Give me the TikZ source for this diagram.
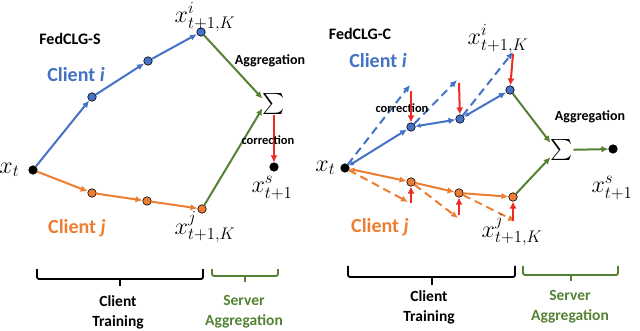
\RequirePackage{fix-cm}
\documentclass[tikz,border=0pt]{standalone}
\usepackage{fontspec}
\newfontfamily\calibri{Carlito}
\usetikzlibrary{arrows.meta, positioning, calc}
\definecolor{clientBlue}{HTML}{4472C4}
\definecolor{clientOrange}{HTML}{ED7D31}
\definecolor{serverGreen}{HTML}{548235}
\definecolor{corrRed}{HTML}{EE2A24}
\def\lw{2pt}

\begin{document}
\begin{tikzpicture}[x=1pt, y=-1pt,
    dotnode/.style={circle, inner sep=0pt, minimum size=8.5pt,
                    draw=black, line width=0.6pt},
    mathlbl/.style={font=\fontsize{24}{28}\selectfont, inner sep=1pt},
    sumlbl/.style={scale=2.1, inner sep=0pt},
    tag/.style={font=\calibri\bfseries\fontsize{14}{16}\selectfont},
    bluestep/.style={clientBlue, line width=\lw,
                     {Latex[length=5pt,width=5pt]}-{Latex[length=7pt,width=6.5pt]}},
    orangestep/.style={clientOrange, line width=\lw,
                     -{Latex[length=7pt,width=6.5pt]}},
    dashstep/.style={line width=\lw, dash pattern=on 8pt off 5pt,
                     -{Latex[length=7pt,width=6.5pt]}},
    aggarrow/.style={serverGreen, line width=\lw,
                     -{Latex[length=7pt,width=6.5pt]}},
    corrarrow/.style={corrRed, line width=2pt,
                     -{Latex[length=7pt,width=7pt]}},
    bracket/.style={line width=1.8pt, rounded corners=2pt}]

    \useasboundingbox (0,0) rectangle (640,331);

    % ==========================================================
    % 1. FedCLG-S (left panel)
    % ==========================================================
    \node[dotnode, fill=black]        (xtL) at (33,170) {};
    \node[dotnode, fill=clientBlue]   (bi1) at (92,97)  {};
    \node[dotnode, fill=clientBlue]   (bi2) at (148,61) {};
    \node[dotnode, fill=clientBlue]   (bi3) at (201,32) {};
    \node[dotnode, fill=clientOrange] (bj1) at (92,193) {};
    \node[dotnode, fill=clientOrange] (bj2) at (147,201) {};
    \node[dotnode, fill=clientOrange] (bj3) at (202,209) {};
    \node[sumlbl] (sumL) at (274,104) {$\sum$};
    \node[dotnode, fill=black]        (xsL) at (274,167) {};

    % Local steps of the two clients
    \draw[bluestep, -{Latex[length=7pt,width=6.5pt]}] (xtL) -- (bi1);
    \draw[bluestep, -{Latex[length=7pt,width=6.5pt]}] (bi1) -- (bi2);
    \draw[bluestep, -{Latex[length=7pt,width=6.5pt]}] (bi2) -- (bi3);
    \draw[orangestep] (xtL) -- (bj1);
    \draw[orangestep] (bj1) -- (bj2);
    \draw[orangestep] (bj2) -- (bj3);

    % Aggregation and server-side correction
    \draw[aggarrow] (bi3) -- (sumL.155);
    \draw[aggarrow] (bj3) -- (sumL.200);
    \draw[corrarrow] (sumL) -- (xsL);

    % Labels
    \node[mathlbl, anchor=east] at ($(xtL.west)+(-8,0)$) {$x_t$};
    \node[mathlbl] at (205,17)  {$x^i_{t+1,K}$};
    \node[mathlbl] at (205,227) {$x^j_{t+1,K}$};
    \node[mathlbl] at (272,188) {$x^s_{t+1}$};
    \node[tag, font=\calibri\bfseries\fontsize{16}{18}\selectfont] at (70,39) {FedCLG-S};
    \node[tag, clientBlue, font=\calibri\bfseries\fontsize{20}{22}\selectfont]
        at (76,75) {Client \textit{i}};
    \node[tag, clientOrange, font=\calibri\bfseries\fontsize{20}{22}\selectfont]
        at (77,228) {Client \textit{j}};
    \node[tag] at (270,61) {Aggregation};
    \node[tag, font=\calibri\bfseries\fontsize{12.5}{14}\selectfont]
        at (268,140) {correction};

    % ==========================================================
    % 2. FedCLG-C (right panel)
    % ==========================================================
    \node[dotnode, fill=black]        (xtR) at (345,168) {};
    \node[dotnode, fill=clientBlue]   (ci1) at (411,127) {};
    \node[dotnode, fill=clientBlue]   (ci2) at (460,119) {};
    \node[dotnode, fill=clientBlue]   (ci3) at (510,90)  {};
    \node[dotnode, fill=clientOrange] (cj1) at (411,182) {};
    \node[dotnode, fill=clientOrange] (cj2) at (459,193) {};
    \node[dotnode, fill=clientOrange] (cj3) at (513,197) {};
    \node[sumlbl] (sumR) at (562,150) {$\sum$};
    \node[dotnode, fill=black]        (xsR) at (613,149) {};

    % Ends of the uncorrected (dashed) steps
    \coordinate (di1) at (410,85);
    \coordinate (di2) at (457,80);
    \coordinate (di3) at (513,52);
    \coordinate (dj1) at (408,202);
    \coordinate (dj2) at (458,218);
    \coordinate (dj3) at (515,221);

    % Uncorrected steps
    \draw[dashstep, clientBlue]   (xtR) -- (di1);
    \draw[dashstep, clientBlue]   (ci1) -- (di2);
    \draw[dashstep, clientBlue]   (ci2) -- (di3);
    \draw[dashstep, clientOrange] (xtR) -- (dj1);
    \draw[dashstep, clientOrange] (cj1) -- (dj2);
    \draw[dashstep, clientOrange] (cj2) -- (dj3);

    % Corrected steps
    \draw[bluestep] (xtR) -- (ci1);
    \draw[bluestep] (ci1) -- (ci2);
    \draw[bluestep] (ci2) -- (ci3);
    \draw[orangestep, {Latex[length=5pt,width=5pt]}-{Latex[length=7pt,width=6.5pt]}]
        (xtR) -- (cj1);
    \draw[orangestep] (cj1) -- (cj2);
    \draw[orangestep] (cj2) -- (cj3);

    % Client-side corrections
    \node[tag, font=\calibri\bfseries\fontsize{12.5}{14}\selectfont]
        at (402,108) {correction};
    \draw[corrarrow] ($(di1)+(1,6)$)  -- (ci1);
    \draw[corrarrow] ($(di2)+(2,3)$)  -- (ci2);
    \draw[corrarrow] ($(di3)+(0,2)$)  -- (ci3);
    \draw[corrarrow] ($(cj1)+(0,21)$) -- (cj1);
    \draw[corrarrow] ($(cj2)+(0,22)$) -- (cj2);
    \draw[corrarrow] ($(cj3)+(0,24)$) -- (cj3);

    % Aggregation
    \draw[aggarrow] (ci3) -- (sumR.148);
    \draw[aggarrow] (cj3) -- (sumR.212);
    \draw[aggarrow] (sumR) -- (xsR);

    % Labels
    \node[mathlbl, anchor=east] at ($(xtR.west)+(-4,0)$) {$x_t$};
    \node[mathlbl] at (498,39)  {$x^i_{t+1,K}$};
    \node[mathlbl] at (512,230) {$x^j_{t+1,K}$};
    \node[mathlbl] at (612,188) {$x^s_{t+1}$};
    \node[tag, font=\calibri\bfseries\fontsize{16}{18}\selectfont] at (360,34) {FedCLG-C};
    \node[tag, clientBlue, font=\calibri\bfseries\fontsize{20}{22}\selectfont]
        at (378,61) {Client \textit{i}};
    \node[tag, clientOrange, font=\calibri\bfseries\fontsize{20}{22}\selectfont]
        at (380,227) {Client \textit{j}};
    \node[tag] at (590,117) {Aggregation};

    % ==========================================================
    % 3. PHASE BRACKETS
    % ==========================================================
    \draw[bracket] (37,269) -- (37,279) -- (120,279) -- (203,279) -- (203,269);
    \draw[bracket] (120,279) -- (120,286);
    \draw[bracket, serverGreen] (212,269) -- (212,276) -- (245,276) -- (278,276) -- (278,269);
    \draw[bracket, serverGreen] (245,276) -- (245,282);
    \draw[bracket] (348,266) -- (348,277) -- (432,277) -- (515,277) -- (515,266);
    \draw[bracket] (432,277) -- (432,285);
    \draw[bracket, serverGreen] (523,266) -- (523,275) -- (571,275) -- (618,275) -- (618,266);
    \draw[bracket, serverGreen] (571,275) -- (571,281);

    \node[tag, align=center, font=\calibri\bfseries\fontsize{15.5}{20}\selectfont]
        at (118,312) {Client\\Training};
    \node[tag, serverGreen, align=center, font=\calibri\bfseries\fontsize{15.5}{20}\selectfont]
        at (244,312) {Server\\Aggregation};
    \node[tag, align=center, font=\calibri\bfseries\fontsize{15.5}{20}\selectfont]
        at (429,307) {Client\\Training};
    \node[tag, serverGreen, align=center, font=\calibri\bfseries\fontsize{15.5}{20}\selectfont]
        at (570,307) {Server\\Aggregation};

\end{tikzpicture}
\end{document}
